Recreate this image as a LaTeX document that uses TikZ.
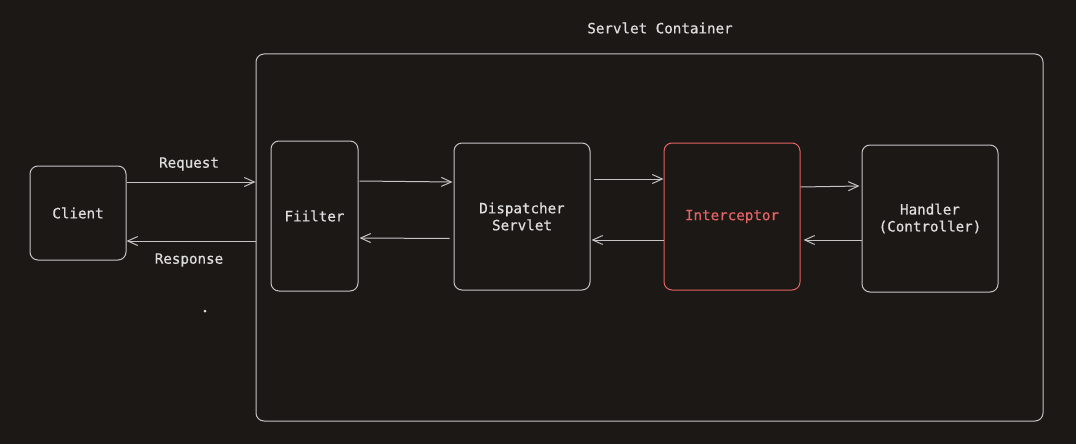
\documentclass[tikz,border=0pt]{standalone}
\usepackage{fontspec}
\newfontfamily\dmono[FakeBold=0.6]{DejaVu Sans Mono}
\usetikzlibrary{arrows.meta}
\definecolor{bg}{HTML}{1C1816}
\definecolor{ln}{HTML}{C4C4C4}
\definecolor{tx}{HTML}{DEDEDE}
\definecolor{rd}{HTML}{E36464}
\begin{document}
\begin{tikzpicture}[x=1pt,y=1pt,
  box/.style={draw=ln,line width=1pt,rounded corners=8pt,text=tx,align=center,inner sep=0pt},
  arr/.style={draw=ln,line width=1pt,-{Straight Barb[length=10pt,width=9pt,line width=1pt]}},
  lbl/.style={text=tx},
  font=\dmono\fontsize{14.2}{17}\selectfont]
\fill[bg] (0,0) rectangle (1076,-444);
\useasboundingbox (0,0) rectangle (1076,-444);
\node[box,minimum width=787pt,minimum height=367pt] (container) at (649.5,-237.5) {};
\node[lbl] (title) at (660,-28) {Servlet Container};
\node[box,minimum width=96pt,minimum height=94pt] (client) at (78,-213) {Client};
\node[box,minimum width=87pt,minimum height=150pt] (filter) at (314.5,-216) {Fiilter};
\node[box,minimum width=136pt,minimum height=147pt] (disp) at (522,-216.5) {Dispatcher\\Servlet};
\node[box,draw=rd,text=rd,minimum width=136pt,minimum height=147pt] (inter) at (732,-216.5) {Interceptor};
\node[box,minimum width=136pt,minimum height=147pt] (handler) at (930,-218.5) {Handler\\(Controller)};
\node[lbl] (req) at (189,-164) {Request};
\node[lbl] (resp) at (189,-260) {Response};
\fill[tx] (205,-311) circle (1.5pt) coordinate (dot);
% client <-> container
\draw[arr] ([yshift=31pt]client.east) -- ([yshift=31pt]client.east -| container.west);
\draw[arr] ([yshift=-28pt]client.east -| container.west) -- ([yshift=-28pt]client.east);
% filter <-> dispatcher
\draw[arr] ([xshift=1pt,yshift=35pt]filter.east) -- ([xshift=-1pt,yshift=34.5pt]disp.west);
\draw[arr] ([xshift=-4pt,yshift=-22pt]disp.west) -- ([xshift=1pt,yshift=-22pt]filter.east);
% dispatcher <-> interceptor
\draw[arr] ([xshift=3pt,yshift=37.5pt]disp.east) -- ([yshift=37.5pt]inter.west);
\draw[arr] ([yshift=-23.5pt]inter.west) -- ([xshift=1pt,yshift=-23.5pt]disp.east);
% interceptor <-> handler
\draw[arr] ([yshift=29.5pt]inter.east) -- ([xshift=-2pt,yshift=32.5pt]handler.west);
\draw[arr] ([yshift=-21.5pt]handler.west) -- ([xshift=3pt,yshift=-23.5pt]inter.east);
\end{tikzpicture}
\end{document}
